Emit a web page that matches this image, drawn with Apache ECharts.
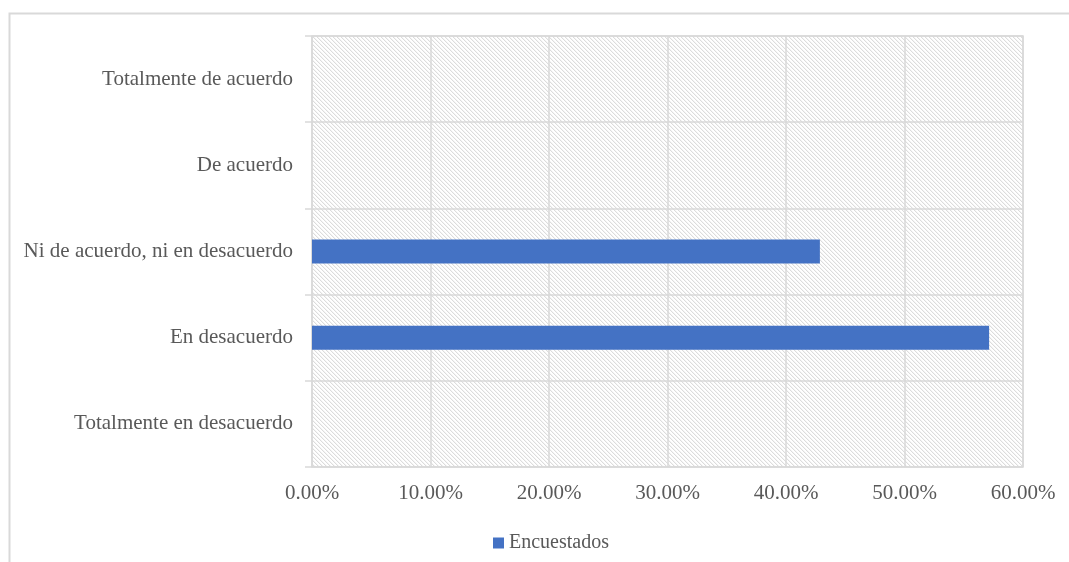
<!DOCTYPE html>
<html>
<head>
<meta charset="utf-8">
<script src="https://cdn.jsdelivr.net/npm/echarts@6/dist/echarts.min.js"></script>
<style>
  html, body { margin: 0; padding: 0; background: #ffffff; }
  #chart { width: 1069px; height: 562px; }
</style>
</head>
<body>
<div id="chart"></div>
<script>
// Response categories, listed bottom to top as the category axis draws them
var categories = [
  'Totalmente en desacuerdo',
  'En desacuerdo',
  'Ni de acuerdo, ni en desacuerdo',
  'De acuerdo',
  'Totalmente de acuerdo'
];
// Share of respondents per category
var encuestados = [0, 0.5714, 0.4286, 0, 0];
var seriesName = 'Encuestados';
var axisMax = 0.6;
var axisStep = 0.1;

// Diagonal hatch fill for the plot area
function hatchPattern() {
  var c = document.createElement('canvas');
  c.width = 8; c.height = 8;
  var ctx = c.getContext('2d');
  ctx.fillStyle = '#ffffff';
  ctx.fillRect(0, 0, 8, 8);
  for (var y = 0; y < 8; y++) {
    for (var x = 0; x < 8; x++) {
      var k = ((x - y) % 4 + 4) % 4;
      if (k === 0) { ctx.fillStyle = '#dcdcdc'; ctx.fillRect(x, y, 1, 1); }
      else if (k === 1) { ctx.fillStyle = '#f5f5f5'; ctx.fillRect(x, y, 1, 1); }
    }
  }
  return { image: c, repeat: 'repeat' };
}

var textColor = '#595959';
var lineColor = '#d9d9d9';
var fontFamily = '"Liberation Serif", "Times New Roman", serif';

var chart = echarts.init(document.getElementById('chart'), null, { renderer: 'canvas' });
chart.setOption({
  animation: false,
  backgroundColor: '#ffffff',
  graphic: [{
    type: 'rect',
    left: 7, top: 11,
    shape: { width: 1200, height: 700 },
    style: { fill: 'none', stroke: lineColor, lineWidth: 2 },
    silent: true
  }],
  grid: {
    left: 312, right: 46, top: 36, bottom: 95,
    show: true,
    backgroundColor: hatchPattern(),
    borderColor: lineColor,
    borderWidth: 1.5
  },
  legend: {
    data: [seriesName],
    left: 488, top: 528,
    icon: 'rect',
    itemWidth: 11, itemHeight: 11,
    textStyle: { color: textColor, fontSize: 20, fontFamily: fontFamily }
  },
  xAxis: {
    type: 'value',
    min: 0, max: axisMax, interval: axisStep,
    axisLine: { show: false },
    axisTick: { show: false },
    splitLine: { show: true, lineStyle: { color: lineColor, width: 1.5 } },
    axisLabel: {
      color: textColor, fontSize: 21, fontFamily: fontFamily, margin: 16,
      formatter: function (v) { return (v * 100).toFixed(2) + '%'; }
    }
  },
  yAxis: {
    type: 'category',
    data: categories,
    axisLine: { show: false },
    axisTick: { show: true, length: 7, lineStyle: { color: lineColor, width: 1.5 } },
    splitLine: { show: true, lineStyle: { color: lineColor, width: 1.5 } },
    axisLabel: {
      color: textColor, fontSize: 21, fontFamily: fontFamily, margin: 19,
      padding: [6, 0, 0, 0]
    }
  },
  series: [{
    name: seriesName,
    type: 'bar',
    data: encuestados,
    barWidth: 24,
    itemStyle: { color: '#4472C4' }
  }]
});
</script>
</body>
</html>
